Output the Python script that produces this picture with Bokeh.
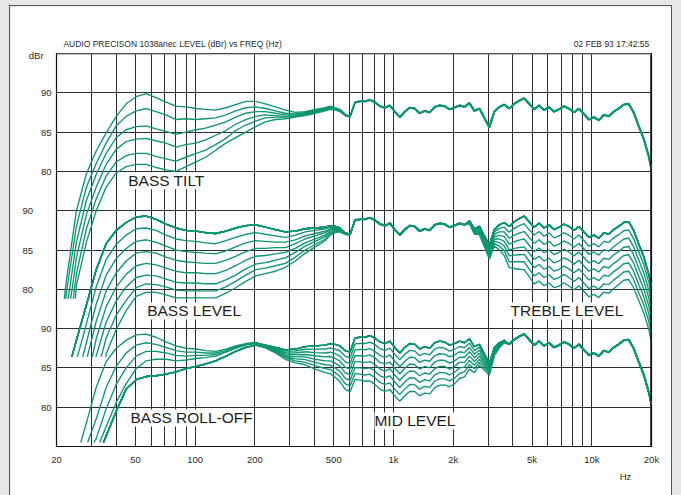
from bokeh.plotting import figure
from bokeh.models import FixedTicker, LogAxis, Label, Span, GlobalInlineStyleSheet, InlineStyleSheet
from bokeh.embed import file_html
from bokeh.resources import INLINE

# ---------------- data ----------------
FREQ = [20, 22.4, 25.2, 28.3, 31.7, 35.6, 40, 44.9, 50.4, 56.6, 63.5, 71.3, 80, 89.8, 101, 113, 127, 143,
        160, 180, 202, 226, 254, 285, 320, 359, 403, 453, 480, 508, 538, 570, 604, 640, 678, 718, 761,
        806, 854, 905, 959, 1016, 1076, 1140, 1208, 1280, 1356, 1437, 1522, 1613, 1709, 1810, 1918, 2032,
        2153, 2281, 2416, 2560, 2712, 2874, 3044, 3226, 3417, 3620, 3836, 4064, 4305, 4561, 4833, 5120,
        5424, 5747, 6089, 6451, 6834, 7241, 7671, 8128, 8611, 9123, 9665, 10240, 10849, 11494, 12177,
        12902, 13669, 14482, 15343, 16255, 17222, 18245, 19330, 20000]

# flat response (dBr)
FLAT = [None, 68.0, 73.5, 78.0, 82.5, 85.8, 87.5, 88.5, 89.2, 89.3, 88.9, 88.3, 87.8, 87.5, 87.4, 87.2, 87.1,
        87.4, 87.8, 88.1, 88.2, 87.9, 87.6, 87.3, 87.4, 87.7, 87.8, 87.9,
        88.1, 88.0, 87.8, 87.2, 87.0, 88.8, 88.9, 88.9, 89.1, 88.8, 88.3, 88.1, 88.4, 87.6, 86.9, 87.6, 88.1,
        88.0, 87.4, 87.7, 87.5, 88.2, 88.4, 88.3, 87.9, 88.1, 88.4, 88.2, 88.7, 87.7, 88.0, 86.8, 85.6, 87.6,
        88.2, 88.5, 88.0, 88.6, 89.0, 89.3, 88.6, 87.9, 88.4, 87.8, 88.2, 87.6, 87.9, 88.3, 88.0, 87.5, 88.0,
        87.3, 86.6, 86.9, 86.5, 87.2, 87.0, 87.6, 88.0, 88.5, 88.6, 87.5, 85.8, 84.2, 82.0, 80.3]

# BASS TILT (top group), 20 Hz .. 640 Hz
TILT_START = [21.9, 22.3, 22.9, 23.6, 24.3, 24.9]
TILT = [
    [None, 66.0, 75.0, 79.7, 82.6, 84.9, 87.0, 88.6, 89.5, 89.9, 89.4, 88.8, 88.3, 88.2, 88.0, 87.9, 87.8, 88.1, 88.5, 88.9, 88.9, 88.6, 88.2, 87.8, 87.5, 87.6, 87.9, 88.1, 88.3, 88.1, 87.9, 87.3, 87.0, 88.8],
    [None, 64.5, 73.0, 78.0, 81.0, 83.6, 85.8, 87.0, 87.7, 88.0, 87.6, 87.2, 86.6, 86.7, 86.6, 86.7, 86.8, 87.2, 87.7, 88.1, 88.2, 88.0, 87.7, 87.4, 87.3, 87.5, 87.8, 88.0, 88.2, 88.0, 87.8, 87.2, 87.0, 88.8],
    [None, None, 71.0, 76.3, 79.6, 82.3, 84.3, 85.3, 85.7, 85.8, 85.4, 85.1, 84.7, 85.0, 85.3, 85.5, 85.9, 86.3, 86.9, 87.4, 87.6, 87.6, 87.4, 87.2, 87.2, 87.4, 87.7, 88.0, 88.1, 88.0, 87.8, 87.2, 87.0, 88.8],
    [None, None, 69.0, 74.5, 78.0, 80.9, 82.8, 83.8, 84.1, 84.2, 83.9, 83.6, 83.1, 83.4, 83.6, 84.0, 84.6, 85.2, 86.0, 86.6, 87.0, 87.2, 87.1, 87.0, 87.1, 87.3, 87.6, 87.9, 88.0, 87.9, 87.7, 87.2, 87.0, 88.8],
    [None, None, 67.0, 72.7, 76.5, 79.4, 81.2, 82.0, 82.3, 82.3, 81.9, 81.6, 81.3, 81.8, 82.3, 82.7, 83.4, 84.2, 85.2, 85.9, 86.4, 86.8, 86.9, 86.9, 87.0, 87.2, 87.5, 87.8, 88.0, 87.9, 87.7, 87.1, 86.9, 88.8],
    [None, None, 65.5, 71.0, 75.0, 78.0, 79.8, 80.6, 80.9, 80.9, 80.5, 80.2, 80.0, 80.6, 81.2, 81.8, 82.7, 83.6, 84.3, 85.0, 85.7, 86.3, 86.6, 86.7, 86.9, 87.1, 87.4, 87.7, 87.9, 87.8, 87.6, 87.1, 86.9, 88.8],
]

# BASS LEVEL (middle group), cut settings, 20 Hz .. 640 Hz
BASS_START = [23.9, 25.5, 27.1, 28.6, 30.3, 31.6, 33.6, 35.4]
BASS_LEVEL = [
    [None, None, None, 75.6, 80.3, 83.8, 85.7, 86.9, 87.7, 87.8, 87.5, 86.9, 86.4, 86.2, 86.1, 85.9, 85.8, 86.2, 86.6, 87.0, 87.2, 87.0, 86.8, 86.6, 86.9, 87.3, 87.5, 87.7, 87.9, 87.9, 87.7, 87.2, 87.0, 88.8],
    [None, None, None, 73.2, 78.1, 81.8, 83.9, 85.2, 86.1, 86.3, 86.0, 85.5, 85.0, 84.8, 84.7, 84.6, 84.5, 84.9, 85.4, 85.9, 86.2, 86.1, 86.0, 86.0, 86.3, 86.8, 87.1, 87.4, 87.7, 87.8, 87.7, 87.1, 87.0, 88.8],
    [None, None, None, None, 75.9, 79.8, 82.1, 83.6, 84.6, 84.8, 84.6, 84.1, 83.7, 83.5, 83.4, 83.3, 83.3, 83.7, 84.2, 84.8, 85.2, 85.2, 85.3, 85.3, 85.8, 86.4, 86.8, 87.2, 87.6, 87.6, 87.6, 87.1, 87.0, 88.8],
    [None, None, None, None, 73.7, 77.8, 80.3, 81.9, 83.0, 83.3, 83.1, 82.7, 82.3, 82.1, 82.1, 82.0, 82.0, 82.4, 83.0, 83.7, 84.2, 84.3, 84.5, 84.7, 85.2, 85.9, 86.4, 86.9, 87.4, 87.5, 87.5, 87.1, 87.0, 88.8],
    [None, None, None, None, None, 75.8, 78.5, 80.3, 81.5, 81.8, 81.7, 81.3, 80.9, 80.8, 80.8, 80.7, 80.7, 81.2, 81.8, 82.6, 83.2, 83.4, 83.7, 84.0, 84.7, 85.5, 86.1, 86.7, 87.2, 87.4, 87.5, 87.1, 87.0, 88.8],
    [None, None, None, None, None, 73.8, 76.7, 78.6, 80.2, 80.7, 80.6, 80.3, 79.9, 79.8, 79.8, 79.8, 79.8, 80.3, 81.0, 81.8, 82.5, 82.7, 83.0, 83.3, 84.1, 85.0, 85.7, 86.4, 87.0, 87.3, 87.4, 87.0, 86.9, 88.8],
    [None, None, None, None, None, 71.8, 74.9, 77.3, 79.1, 79.6, 79.6, 79.3, 78.9, 78.9, 78.9, 78.9, 78.9, 79.5, 80.2, 81.0, 81.7, 82.0, 82.3, 82.8, 83.6, 84.6, 85.4, 86.2, 86.9, 87.2, 87.3, 87.0, 86.9, 88.8],
]

# TREBLE LEVEL (middle group): change from flat per setting, 2281 Hz .. 20 kHz
TREBLE_CUT = [
    [0, -0.05, -0.1, -0.15, -0.2, -0.25, -0.3, -0.45, -0.6, -0.75,
     -0.85, -0.9, -0.95, -1.0, -1.0, -1.05, -1.05, -1.05, -1.05, -1.1,
     -1.1, -1.1, -1.1, -1.1, -1.1, -1.1, -1.1, -1.1, -1.1, -1.05,
     -1.05, -1.05, -1.05, -1.05, -1.05, -1.0, -1.0, -1.0, -1.0],
    [0, -0.1, -0.2, -0.3, -0.4, -0.5, -0.6, -0.9, -1.2, -1.5,
     -1.7, -1.85, -1.95, -2.0, -2.05, -2.1, -2.1, -2.1, -2.1, -2.15,
     -2.15, -2.15, -2.15, -2.15, -2.15, -2.15, -2.15, -2.15, -2.15, -2.15,
     -2.15, -2.1, -2.1, -2.1, -2.1, -2.05, -2.05, -2.0, -2.0],
    [0, -0.15, -0.3, -0.45, -0.6, -0.75, -0.9, -1.35, -1.8, -2.25,
     -2.55, -2.75, -2.9, -3.0, -3.1, -3.15, -3.15, -3.2, -3.2, -3.2,
     -3.2, -3.25, -3.25, -3.25, -3.25, -3.25, -3.25, -3.25, -3.25, -3.2,
     -3.2, -3.2, -3.15, -3.15, -3.1, -3.1, -3.05, -3.0, -3.0],
    [0, -0.2, -0.4, -0.6, -0.8, -1.0, -1.2, -1.8, -2.4, -3.0,
     -3.4, -3.7, -3.9, -4.0, -4.1, -4.2, -4.2, -4.25, -4.25, -4.3,
     -4.3, -4.3, -4.3, -4.3, -4.3, -4.3, -4.3, -4.3, -4.3, -4.3,
     -4.3, -4.25, -4.2, -4.2, -4.15, -4.1, -4.1, -4.0, -4.0],
    [0, -0.25, -0.5, -0.75, -1.0, -1.25, -1.5, -2.25, -3.0, -3.75,
     -4.25, -4.6, -4.85, -5.0, -5.15, -5.25, -5.25, -5.3, -5.3, -5.35,
     -5.35, -5.4, -5.4, -5.4, -5.4, -5.4, -5.4, -5.4, -5.4, -5.35,
     -5.35, -5.3, -5.25, -5.25, -5.2, -5.15, -5.1, -5.0, -5.0],
    [0, -0.3, -0.6, -0.9, -1.2, -1.5, -1.8, -2.7, -3.6, -4.5,
     -5.1, -5.5, -5.8, -6.0, -6.2, -6.3, -6.3, -6.35, -6.35, -6.4,
     -6.4, -6.5, -6.5, -6.5, -6.5, -6.5, -6.5, -6.5, -6.5, -6.4,
     -6.4, -6.35, -6.3, -6.3, -6.25, -6.2, -6.1, -6.0, -6.0],
    [0, -0.35, -0.7, -1.05, -1.4, -1.75, -2.1, -3.15, -4.2, -5.25,
     -5.95, -6.45, -6.8, -7.0, -7.2, -7.35, -7.35, -7.4, -7.4, -7.5,
     -7.5, -7.55, -7.55, -7.55, -7.55, -7.55, -7.55, -7.55, -7.55, -7.5,
     -7.5, -7.4, -7.35, -7.35, -7.3, -7.2, -7.15, -7.0, -7.0],
]

# BASS ROLL-OFF (bottom group), 20 Hz .. 202 Hz
ROLL_START = [26.5, 28.7, 30.8, 33.0, 34.5]
ROLL = [
    [None, None, None, None, 78.5, 82.5, 85.2, 86.9, 87.9, 88.2, 88.0, 87.6, 87.2, 87.0, 87.0, 86.9, 86.9, 87.2, 87.7, 88.0, 88.2],
    [None, None, None, None, 76.0, 79.8, 82.9, 85.0, 86.5, 87.1, 87.1, 86.9, 86.6, 86.5, 86.6, 86.6, 86.7, 87.1, 87.6, 88.0, 88.2],
    [None, None, None, None, None, 77.5, 80.6, 83.0, 84.9, 85.9, 86.1, 86.1, 85.9, 86.0, 86.2, 86.3, 86.5, 87.0, 87.5, 87.9, 88.1],
    [None, None, None, None, None, None, 79.5, 82.3, 83.5, 83.9, 84.0, 84.2, 84.5, 84.9, 85.2, 85.5, 85.9, 86.5, 87.1, 87.6, 87.9],
]

# MID LEVEL (bottom group): change from flat per setting, 226 Hz .. 3836 Hz
MID_CUT = [
    [-0.05, -0.1, -0.17, -0.25, -0.33, -0.42, -0.5, -0.55, -0.6, -0.65,
     -0.7, -0.72, -0.75, -0.78, -0.8, -0.82, -0.84, -0.86, -0.87, -0.88,
     -0.88, -0.88, -0.88, -0.87, -0.86, -0.85, -0.84, -0.83, -0.82, -0.8,
     -0.78, -0.76, -0.73, -0.68, -0.62, -0.55, -0.47, -0.38, -0.3, -0.22,
     -0.15, -0.09, -0.04, 0.0],
    [-0.1, -0.2, -0.35, -0.5, -0.65, -0.85, -1.0, -1.1, -1.2, -1.3,
     -1.4, -1.45, -1.5, -1.55, -1.6, -1.65, -1.7, -1.7, -1.75, -1.75,
     -1.75, -1.75, -1.75, -1.75, -1.7, -1.7, -1.7, -1.65, -1.65, -1.6,
     -1.55, -1.5, -1.45, -1.35, -1.25, -1.1, -0.95, -0.75, -0.6, -0.45,
     -0.3, -0.2, -0.1, 0.0],
    [-0.15, -0.3, -0.5, -0.75, -1.0, -1.25, -1.5, -1.65, -1.8, -1.95,
     -2.1, -2.15, -2.25, -2.35, -2.4, -2.45, -2.5, -2.6, -2.6, -2.65,
     -2.65, -2.65, -2.65, -2.6, -2.6, -2.55, -2.5, -2.5, -2.45, -2.4,
     -2.35, -2.3, -2.2, -2.05, -1.85, -1.65, -1.4, -1.15, -0.9, -0.65,
     -0.45, -0.25, -0.1, 0.0],
    [-0.2, -0.4, -0.7, -1.0, -1.3, -1.7, -2.0, -2.2, -2.4, -2.6,
     -2.8, -2.9, -3.0, -3.1, -3.2, -3.3, -3.35, -3.45, -3.5, -3.5,
     -3.5, -3.5, -3.5, -3.5, -3.45, -3.4, -3.35, -3.3, -3.3, -3.2,
     -3.1, -3.05, -2.9, -2.7, -2.5, -2.2, -1.9, -1.5, -1.2, -0.9,
     -0.6, -0.35, -0.15, 0.0],
    [-0.25, -0.5, -0.85, -1.25, -1.65, -2.1, -2.5, -2.75, -3.0, -3.25,
     -3.5, -3.6, -3.75, -3.9, -4.0, -4.1, -4.2, -4.3, -4.35, -4.4,
     -4.4, -4.4, -4.4, -4.35, -4.3, -4.25, -4.2, -4.15, -4.1, -4.0,
     -3.9, -3.8, -3.65, -3.4, -3.1, -2.75, -2.35, -1.9, -1.5, -1.1,
     -0.75, -0.45, -0.2, 0.0],
    [-0.3, -0.6, -1.0, -1.5, -2.0, -2.5, -3.0, -3.3, -3.6, -3.9,
     -4.2, -4.3, -4.5, -4.7, -4.8, -4.9, -5.05, -5.15, -5.2, -5.3,
     -5.3, -5.3, -5.3, -5.2, -5.15, -5.1, -5.05, -5.0, -4.9, -4.8,
     -4.7, -4.55, -4.4, -4.1, -3.7, -3.3, -2.8, -2.3, -1.8, -1.3,
     -0.9, -0.55, -0.25, 0.0],
    [-0.35, -0.7, -1.2, -1.75, -2.3, -2.95, -3.5, -3.85, -4.2, -4.55,
     -4.9, -5.05, -5.25, -5.45, -5.6, -5.75, -5.9, -6.0, -6.1, -6.15,
     -6.15, -6.15, -6.15, -6.1, -6.0, -5.95, -5.9, -5.8, -5.75, -5.6,
     -5.45, -5.3, -5.1, -4.75, -4.35, -3.85, -3.3, -2.65, -2.1, -1.55,
     -1.05, -0.65, -0.3, 0.0],
]

GROUP_OFFSET = {"top": 45, "mid": 60, "bot": 75}   # dBr value - offset = position on the stacked axis
CLIP = {"top": 63.8, "mid": 71.4, "bot": 75.5}
DBR_TICKS = [80, 85, 90]
X_TICKS = [20, 50, 100, 200, 500, 1000, 2000, 5000, 10000, 20000]
X_LABELS = ["20", "50", "100", "200", "500", "1k", "2k", "5k", "10k", "20k"]
X_MINOR = [30, 40, 60, 70, 80, 90, 300, 400, 600, 700, 800, 900, 3000, 4000, 6000, 7000, 8000, 9000]
TITLE = "AUDIO PRECISON 1038anec  LEVEL (dBr) vs FREQ (Hz)"
STAMP = "02 FEB 93 17:42:55"

N_BASS = 34          # bass families are listed for FREQ[0:34]
TREBLE_FROM = 55     # first FREQ index of TREBLE_CUT
MID_FROM = 21        # first FREQ index of MID_CUT
N_ROLL = len(ROLL[0])


def curve(start, clip, bass, tail_from, tail):
    xs, ys = [start], [clip]
    for f, v in zip(FREQ[:len(bass)], bass):
        if v is not None and f > start:
            xs.append(f)
            ys.append(v)
    xs += FREQ[tail_from:]
    ys += list(tail)
    return xs, ys


def shifted(xy, group):
    xs, ys = xy
    return xs, [v - GROUP_OFFSET[group] for v in ys]


def with_change(base, first, change):
    out = list(base)
    for i, d in enumerate(change):
        out[first + i] = base[first + i] + d
    return out


curves = []
# top group: bass tilt
for st, b in zip(TILT_START, TILT):
    curves.append(shifted(curve(st, CLIP["top"], b, N_BASS, FLAT[N_BASS:]), "top"))
# middle group: bass level and treble level
curves.append(shifted(curve(BASS_START[0], CLIP["mid"], FLAT[:N_BASS], N_BASS, FLAT[N_BASS:]), "mid"))
for st, b in zip(BASS_START[1:], BASS_LEVEL):
    curves.append(shifted(curve(st, CLIP["mid"], b, N_BASS, FLAT[N_BASS:]), "mid"))
for cut in TREBLE_CUT:
    full = with_change(FLAT, TREBLE_FROM, cut)
    curves.append(shifted(curve(BASS_START[0], CLIP["mid"], FLAT[:N_BASS], N_BASS, full[N_BASS:]), "mid"))
# bottom group: roll-off and mid level
curves.append(shifted(curve(ROLL_START[0], CLIP["bot"], FLAT[:N_ROLL], N_ROLL, FLAT[N_ROLL:]), "bot"))
for st, b in zip(ROLL_START[1:], ROLL):
    curves.append(shifted(curve(st, CLIP["bot"], b, N_ROLL, FLAT[N_ROLL:]), "bot"))
for cut in MID_CUT:
    full = with_change(FLAT, MID_FROM, cut)
    curves.append(shifted(curve(ROLL_START[-1], CLIP["bot"], ROLL[-1], MID_FROM, full[MID_FROM:]), "bot"))

# stretches where all curves of a group coincide (drawn heavier, as overlapping traces)
common = [
    (FREQ[33:], [v - GROUP_OFFSET["top"] for v in FLAT[33:]]),
    (FREQ[33:56], [v - GROUP_OFFSET["mid"] for v in FLAT[33:56]]),
    (FREQ[64:], [v - GROUP_OFFSET["bot"] for v in FLAT[64:]]),
]

# ---------------- figure ----------------
GRID = "#2e2e2e"
CURVE = "#0e9670"
FONT = "Liberation Sans"
TXT = "#2a2a2a"

p = figure(width=661, height=489, x_axis_type="log", x_range=(20, 20000), y_range=(0, 50),
           output_backend="svg", toolbar_location=None,
           min_border_left=46, min_border_right=20, min_border_top=47, min_border_bottom=49,
           border_fill_color="white", background_fill_color="white",
           outline_line_color="#111111", outline_line_width=1.2,
           stylesheets=[GlobalInlineStyleSheet(css="html,body{background:#e6e7e8;overflow:hidden;}"
                                                   "body{padding:6px 0 0 10px !important;margin:0 !important;}"),
                        InlineStyleSheet(css=":host{outline:1px solid #5a5a5a;}")])


def plain(ax, size="9.5px", standoff=6):
    ax.axis_line_color = None
    ax.major_tick_line_color = None
    ax.minor_tick_line_color = None
    ax.major_tick_out = 0
    ax.major_tick_in = 0
    ax.minor_tick_out = 0
    ax.minor_tick_in = 0
    ax.major_label_text_font = FONT
    ax.major_label_text_font_size = size
    ax.major_label_text_color = TXT
    ax.major_label_standoff = standoff


# x axis
p.xaxis.ticker = FixedTicker(ticks=X_TICKS, minor_ticks=X_MINOR)
p.xaxis.major_label_overrides = dict(zip(X_TICKS, X_LABELS))
plain(p.xaxis[0], standoff=7)
p.xgrid.grid_line_color = GRID
p.xgrid.minor_grid_line_color = GRID
p.xgrid.grid_line_width = 1
p.xgrid.minor_grid_line_width = 1

# unit "Hz" under the frequency labels
hz_pos = 14800
hz_axis = LogAxis(ticker=FixedTicker(ticks=[hz_pos]), major_label_overrides={hz_pos: "Hz"})
plain(hz_axis, standoff=3)
p.add_layout(hz_axis, "below")

# heading line above the plot
title_pos, stamp_pos = 78.2, 12570
head = LogAxis(ticker=FixedTicker(ticks=[title_pos, stamp_pos]),
               major_label_overrides={title_pos: TITLE, stamp_pos: STAMP})
plain(head, size="8.5px", standoff=5)
p.add_layout(head, "above")

# y axis: one label column; the middle group and the unit sit further left (non-breaking padding)
NB = "\u00a0"
unit_pos = 49.7
ticks, labels = [], []
for grp, pad in (("top", 0), ("mid", 7), ("bot", 0)):
    for v in DBR_TICKS:
        ticks.append(v - GROUP_OFFSET[grp])
        labels.append(str(v) + NB * pad)
ticks.append(unit_pos)
labels.append("dBr" + NB * 3)
p.yaxis.ticker = FixedTicker(ticks=ticks)
p.yaxis.major_label_overrides = dict(zip(ticks, labels))
plain(p.yaxis[0], standoff=5)

p.ygrid.ticker = FixedTicker(ticks=sorted(t for t in ticks if t != unit_pos))
p.ygrid.grid_line_color = GRID
p.ygrid.grid_line_width = 1

# curves
p.multi_line([c[0] for c in curves], [c[1] for c in curves], line_color=CURVE, line_width=1.35)
p.multi_line([c[0] for c in common], [c[1] for c in common], line_color=CURVE, line_width=2.2)

# frame accents
p.add_layout(Span(location=20000, dimension="height", line_color="#111111", line_width=2.5))
p.add_layout(Span(location=50, dimension="width", line_color="#8a8a8a", line_width=2))

# in-plot captions
def caption(x, y, s):
    p.add_layout(Label(x=x, y=y, text=s, text_font=FONT, text_font_size="15.5px", text_color="#1e1e1e",
                       text_align="left", text_baseline="middle", background_fill_color="white"))

caption(46, 33.8, "BASS TILT")
caption(57.3, 17.25, "BASS LEVEL")
caption(47.2, 3.63, "BASS ROLL-OFF")
caption(802, 3.25, "MID LEVEL")
caption(3890, 17.25, "TREBLE LEVEL")

open("out.html", "w").write(file_html(p, INLINE))
